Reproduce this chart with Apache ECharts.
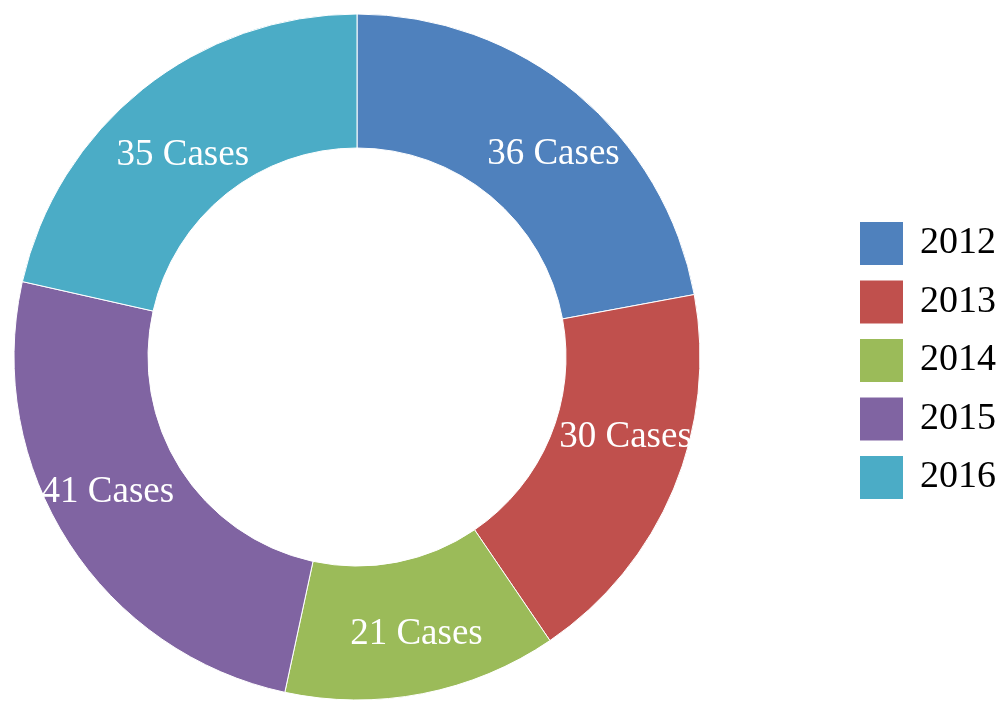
<!DOCTYPE html>
<html>
<head>
<meta charset="utf-8">
<script src="https://cdn.jsdelivr.net/npm/echarts@6/dist/echarts.min.js"></script>
<style>
  html, body { margin: 0; padding: 0; background: #fff; }
  #chart { width: 1000px; height: 702px; }
</style>
</head>
<body>
<div id="chart"></div>
<script>
// 数据
const years = ['2012', '2013', '2014', '2015', '2016']
const cases = [36, 30, 21, 41, 35]
const colors = ['#4f81bd', '#c0504d', '#9bbb59', '#8064a2', '#4bacc6']
// 标签微调（相对于环中点的偏移）
const labelNudge = [[18, 12], [11, -27], [6, 3], [-14, -15], [0, 16]]

const chart = echarts.init(document.getElementById('chart'))
chart.setOption({
  animation: false,
  color: colors,
  legend: {
    orient: 'vertical',
    left: 858,
    top: 220,
    padding: 0,
    icon: 'rect',
    itemWidth: 45,
    itemHeight: 45,
    itemGap: 11.5,
    textStyle: { fontFamily: 'Liberation Serif', fontSize: 38, lineHeight: 40, color: '#000', padding: [0, 0, 0, 11] },
    data: years
  },
  series: [{
    type: 'pie',
    center: [357, 357],
    radius: [209, 343],
    startAngle: 90,
    clockwise: true,
    itemStyle: { borderColor: '#fff', borderWidth: 1 },
    label: {
      show: true,
      position: 'inside',
      color: '#fff',
      fontFamily: 'Liberation Serif',
      fontSize: 37,
      formatter: p => p.value + ' Cases'
    },
    labelLine: { show: false },
    data: years.map((y, i) => ({ name: y, value: cases[i], label: { offset: labelNudge[i] } }))
  }]
})
</script>
</body>
</html>
